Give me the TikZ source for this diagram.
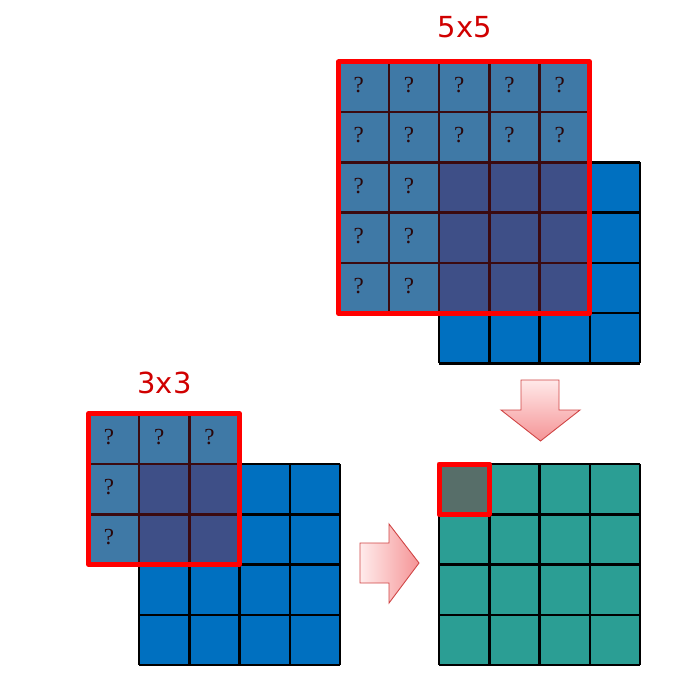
\documentclass[tikz,border=0pt]{standalone}
\usepackage{fontspec}
\newfontfamily\labelfont{DejaVu Sans}
\newfontfamily\qfont{Liberation Serif}
\definecolor{inblue}{HTML}{0070C0}
\definecolor{qcell}{HTML}{3F79A6}
\definecolor{ovcell}{HTML}{3E4F87}
\definecolor{teal2}{HTML}{2B9E94}
\definecolor{hitcell}{HTML}{576E69}
\definecolor{maroon2}{HTML}{3B0A0F}
\definecolor{redlab}{HTML}{D00000}
\definecolor{arrowedge}{HTML}{D04545}
\definecolor{arrowpink}{HTML}{F59496}
\begin{document}
\begin{tikzpicture}[x=1pt,y=-1pt,
  gridline/.style={draw=black,line width=2.5pt},
  ovline/.style={draw=maroon2,line width=2.5pt},
  redframe/.style={draw=red,line width=5pt,line join=round},
  sizelabel/.style={font=\labelfont\fontsize{29}{34}\selectfont,text=redlab,inner sep=0pt},
  qmark/.style={font=\qfont\fontsize{23}{27}\selectfont,text=maroon2!70!black,inner sep=0pt},
  fatarrow/.style={draw=arrowedge,line width=0.9pt,line join=miter}]
\useasboundingbox (0,0) rectangle (683,676);
\def\s{50.25}
% ---------- top: 4x4 input with 5x5 overlay ----------
\fill[inblue] (439,162.5) rectangle +(4*\s,4*\s);
\foreach \i in {0,...,4} {
  \draw[gridline] (439+\i*\s,162.5) -- +(0,4*\s);
  \draw[gridline] (439,162.5+\i*\s) -- +(4*\s,0);
}
\foreach \r in {0,...,4} \foreach \c in {0,...,4} {
  \pgfmathtruncatemacro{\isq}{(\r<2 || \c<2) ? 1 : 0}
  \ifnum\isq=1
    \fill[qcell] (338.5+\c*\s,62+\r*\s) rectangle +(\s,\s);
    \node[qmark] (qt\r\c) at (338.5+\c*\s+0.5*\s-5,62+\r*\s+0.5*\s-2) {?};
  \else
    \fill[ovcell] (338.5+\c*\s,62+\r*\s) rectangle +(\s,\s);
  \fi
}
\foreach \i in {1,...,4} {
  \draw[ovline] (338.5+\i*\s,62) -- +(0,5*\s);
  \draw[ovline] (338.5,62+\i*\s) -- +(5*\s,0);
}
\draw[redframe] (338.5,62) rectangle +(5*\s,5*\s);
\node[sizelabel] (lab5) at (465,27.5) {5x5};
% ---------- bottom left: 4x4 input with 3x3 overlay ----------
\fill[inblue] (139,464) rectangle +(4*\s,4*\s);
\foreach \i in {0,...,4} {
  \draw[gridline] (139+\i*\s,464) -- +(0,4*\s);
  \draw[gridline] (139,464+\i*\s) -- +(4*\s,0);
}
\foreach \r in {0,...,2} \foreach \c in {0,...,2} {
  \pgfmathtruncatemacro{\isq}{(\r<1 || \c<1) ? 1 : 0}
  \ifnum\isq=1
    \fill[qcell] (88.75+\c*\s,413.75+\r*\s) rectangle +(\s,\s);
    \node[qmark] (qb\r\c) at (88.75+\c*\s+0.5*\s-5,413.75+\r*\s+0.5*\s-2) {?};
  \else
    \fill[ovcell] (88.75+\c*\s,413.75+\r*\s) rectangle +(\s,\s);
  \fi
}
\foreach \i in {1,...,2} {
  \draw[ovline] (88.75+\i*\s,413.75) -- +(0,3*\s);
  \draw[ovline] (88.75,413.75+\i*\s) -- +(3*\s,0);
}
\draw[redframe] (88.75,413.75) rectangle +(3*\s,3*\s);
\node[sizelabel] (lab3) at (164.5,382.5) {3x3};
% ---------- output 4x4 ----------
\fill[teal2] (439,464) rectangle +(4*\s,4*\s);
\fill[hitcell] (439,464) rectangle +(\s,\s);
\foreach \i in {0,...,4} {
  \draw[gridline] (439+\i*\s,464) -- +(0,4*\s);
  \draw[gridline] (439,464+\i*\s) -- +(4*\s,0);
}
\draw[redframe] (439,464) rectangle +(\s,\s);
% ---------- arrows ----------
\draw[fatarrow,top color=pink!35!white,bottom color=arrowpink]
  (521,380) -- (559,380) -- (559,410) -- (580,410) -- (540.5,441) -- (501,410) -- (521,410) -- cycle;
\draw[fatarrow,left color=pink!30!white,right color=arrowpink]
  (360,543) -- (389,543) -- (389,524) -- (419,563) -- (389,603) -- (389,583) -- (360,583) -- cycle;
\end{tikzpicture}
\end{document}
